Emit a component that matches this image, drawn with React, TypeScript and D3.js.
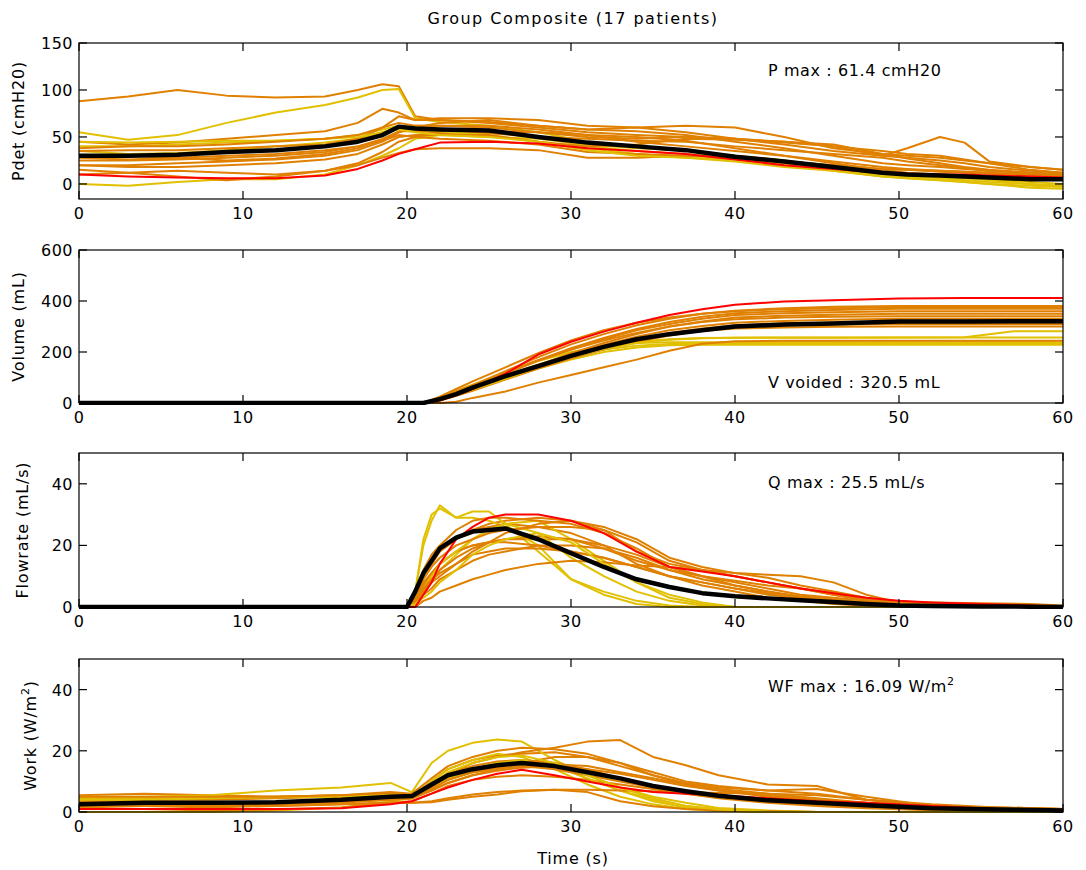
import React from 'react';
import * as d3 from 'd3';

const ORANGE = '#e08000';
const YELLOW = '#e0c000';
const RED = '#ff0000';

// colour of each of the 17 patients
const patientColor = [ORANGE, YELLOW, ORANGE, YELLOW, RED, ORANGE, YELLOW, ORANGE, ORANGE, YELLOW, ORANGE, ORANGE, ORANGE, ORANGE, ORANGE, YELLOW, ORANGE];

const xTicks = [0, 10, 20, 30, 40, 50, 60];

// ---- Pdet (cmH2O)
const pdetTime = [0, 3, 6, 9, 12, 15, 17, 18.5, 19.5, 20.5, 22, 25, 28, 31, 34, 37, 40, 43, 46, 49, 50.5, 52.5, 54, 55.5, 58, 60];
const pdetSeries = [
  [88, 93, 100, 94, 92, 93, 100, 106, 104, 72, 68, 66, 62, 58, 56, 52, 45, 38, 30, 22, 20, 18, 16, 14, 12, 10],
  [55, 47, 52, 65, 76, 84, 92, 100, 101, 70, 66, 62, 55, 45, 40, 36, 30, 25, 18, 12, 10, 8, 6, 5, 2, 0],
  [45, 42, 44, 48, 52, 56, 65, 80, 76, 68, 68, 65, 60, 55, 52, 50, 48, 45, 40, 35, 32, 30, 26, 22, 15, 12],
  [0, -2, 2, 5, 5, 10, 20, 30, 38, 48, 52, 50, 48, 42, 38, 36, 30, 25, 18, 12, 10, 8, 6, 4, 0, -3],
  [10, 8, 7, 6, 6, 9, 16, 25, 32, 37, 44, 45, 43, 38, 35, 32, 26, 20, 16, 12, 11, 10, 10, 9, 8, 7],
  [20, 20, 22, 24, 26, 30, 36, 45, 55, 62, 62, 62, 58, 52, 45, 40, 35, 30, 22, 15, 12, 10, 9, 8, 6, 5],
  [40, 40, 42, 44, 46, 48, 52, 58, 62, 60, 58, 56, 50, 40, 35, 32, 28, 22, 16, 10, 8, 6, 4, 2, 0, -2],
  [25, 25, 26, 28, 30, 34, 40, 48, 56, 56, 55, 54, 50, 48, 46, 45, 40, 36, 32, 28, 24, 20, 17, 14, 12, 10],
  [15, 12, 8, 4, 8, 14, 22, 34, 45, 50, 54, 56, 55, 52, 50, 46, 38, 30, 24, 18, 16, 14, 13, 12, 10, 8],
  [35, 32, 33, 36, 40, 44, 48, 55, 60, 58, 56, 52, 45, 38, 32, 28, 24, 18, 14, 8, 6, 4, 2, 0, -4, -5],
  [30, 30, 28, 25, 27, 32, 38, 47, 55, 60, 65, 68, 62, 58, 60, 55, 48, 42, 35, 30, 28, 25, 22, 18, 14, 12],
  [10, 12, 14, 12, 10, 14, 20, 28, 33, 37, 38, 38, 36, 28, 28, 30, 28, 24, 20, 16, 15, 13, 12, 11, 9, 8],
  [35, 36, 36, 38, 40, 42, 48, 60, 72, 68, 70, 70, 68, 62, 60, 62, 60, 50, 38, 32, 30, 28, 25, 22, 18, 15],
  [20, 18, 18, 20, 22, 26, 32, 42, 50, 52, 52, 52, 45, 40, 42, 48, 47, 45, 42, 32, 27, 22, 18, 15, 12, 10],
  [28, 26, 28, 30, 32, 36, 40, 46, 52, 50, 48, 46, 42, 34, 32, 30, 28, 24, 20, 16, 15, 14, 13, 12, 10, 8],
  [45, 44, 45, 46, 46, 48, 50, 55, 58, 55, 52, 50, 45, 36, 30, 28, 26, 20, 14, 8, 6, 4, 2, 0, -2, -3],
  [38, 40, 40, 42, 45, 48, 52, 60, 65, 62, 62, 60, 55, 50, 48, 50, 48, 44, 40, 30, 38, 50, 44, 24, 18, 15],
];
const pdetMean = [30, 30, 31, 34, 36, 40, 45, 52, 61, 59, 58, 57, 50, 44, 40, 36, 29, 24, 18, 12, 10, 9, 8, 7, 5, 5];

// ---- Volume (mL)
const volTime = [0, 20, 21, 22, 23, 24, 26, 28, 30, 32, 34, 36, 38, 40, 43, 46, 50, 54, 57, 60];
const volSeries = [
  [0, 0, 0, 20, 45, 70, 125, 180, 230, 270, 305, 330, 350, 362, 372, 377, 380, 380, 380, 380],
  [0, 0, 0, 22, 48, 72, 120, 165, 200, 222, 235, 238, 238, 238, 238, 238, 238, 238, 238, 238],
  [0, 0, 0, 12, 32, 55, 100, 148, 195, 235, 270, 300, 320, 335, 342, 346, 350, 350, 350, 350],
  [0, 0, 0, 15, 35, 55, 95, 135, 170, 200, 218, 226, 228, 228, 228, 228, 228, 228, 228, 228],
  [0, 0, 0, 10, 30, 55, 115, 190, 240, 280, 315, 345, 368, 385, 398, 403, 410, 412, 412, 412],
  [0, 0, 0, 20, 45, 70, 120, 168, 210, 245, 275, 300, 318, 328, 335, 338, 340, 340, 340, 340],
  [0, 0, 0, 18, 40, 62, 105, 150, 190, 220, 240, 250, 255, 256, 256, 256, 257, 258, 281, 281],
  [0, 0, 0, 12, 30, 52, 98, 142, 182, 218, 250, 275, 292, 305, 312, 316, 320, 320, 320, 320],
  [0, 0, 0, 15, 38, 60, 105, 148, 188, 220, 248, 268, 282, 292, 296, 299, 300, 300, 300, 300],
  [0, 0, 0, 20, 42, 65, 108, 150, 185, 210, 225, 231, 232, 232, 232, 232, 232, 232, 232, 232],
  [0, 0, 0, 15, 40, 65, 115, 165, 210, 250, 285, 310, 330, 345, 352, 356, 360, 360, 360, 360],
  [0, 0, 0, 0, 5, 20, 45, 80, 110, 140, 170, 205, 232, 242, 244, 244, 244, 244, 244, 244],
  [0, 0, 0, 18, 42, 68, 118, 168, 215, 255, 290, 318, 338, 352, 360, 365, 370, 370, 370, 370],
  [0, 0, 0, 15, 38, 60, 105, 150, 190, 228, 260, 285, 302, 315, 322, 326, 330, 330, 330, 330],
  [0, 0, 0, 10, 28, 48, 92, 135, 175, 210, 240, 265, 285, 298, 304, 308, 310, 310, 310, 310],
  [0, 0, 0, 12, 32, 52, 95, 140, 180, 212, 235, 248, 254, 256, 257, 257, 257, 257, 257, 257],
  [0, 0, 0, 25, 55, 85, 140, 195, 245, 285, 315, 335, 350, 360, 368, 372, 375, 375, 375, 375],
];
const volMean = [0, 0, 0, 15, 35, 60, 105, 145, 185, 220, 250, 270, 285, 300, 308, 312, 320, 320, 321, 321];

// ---- Flowrate (mL/s)
const flowTime = [0, 20, 20.5, 21, 21.5, 22, 23, 24, 25, 26, 28, 30, 32, 34, 36, 38, 40, 42, 44, 46, 48, 50, 52, 55, 58, 60];
const flowSeries = [
  [0, 0, 3, 10, 14, 18, 22, 25, 27, 28, 29, 28, 25, 18, 14, 12, 10, 8, 6, 4.5, 2, 1, 0.5, 0, 0, 0],
  [0, 0, 5, 22, 30, 32, 29, 31, 31, 27, 18, 9, 5, 2, 0.5, 0, 0, 0, 0, 0, 0, 0, 0, 0, 0, 0],
  [0, 0, 2, 8, 11, 14, 18, 20, 21, 22, 22, 22, 20, 17, 13, 10, 8, 6, 4, 3, 2, 1, 0.5, 0, 0, 0],
  [0, 0, 5, 20, 28, 33, 29, 29, 28, 26, 20, 9, 4, 1, 0, 0, 0, 0, 0, 0, 0, 0, 0, 0, 0, 0],
  [0, 0, 0, 4, 8, 14, 22, 26, 29, 30, 30, 28, 24, 18, 13, 11.5, 10, 8, 6, 4.5, 3, 2, 1.5, 1, 0.5, 0],
  [0, 0, 3, 10, 14, 18, 22, 25, 26, 27, 26, 24, 20, 14, 10, 7, 5, 3, 2, 1, 0.5, 0, 0, 0, 0, 0],
  [0, 0, 1, 5, 8, 12, 17, 22, 25, 27, 28, 22, 15, 8, 3, 1, 0, 0, 0, 0, 0, 0, 0, 0, 0, 0],
  [0, 0, 2, 6, 9, 12, 16, 19, 21, 22, 23, 22, 19, 15, 12, 9, 7, 5, 3.5, 2.5, 1.5, 1, 0.5, 0, 0, 0],
  [0, 0, 2, 7, 11, 14, 18, 20, 21, 21, 20, 18, 16, 13, 10, 8, 6, 4, 3, 2, 1, 0.5, 0, 0, 0, 0],
  [0, 0, 2, 6, 10, 14, 18, 22, 25, 27, 24, 16, 10, 5, 2, 0.5, 0, 0, 0, 0, 0, 0, 0, 0, 0, 0],
  [0, 0, 1, 5, 8, 10, 14, 18, 21, 24, 27, 28, 26, 22, 16, 13, 11, 9.5, 7, 5, 3, 1.5, 1, 0.5, 0, 0],
  [0, 0, 0, 2, 3, 5, 7, 9, 10.5, 12, 14, 15, 14.5, 13.5, 13, 12, 10, 8, 6, 4, 2.5, 1.8, 1.5, 1.2, 1, 0.5],
  [0, 0, 3, 9, 13, 16, 20, 22, 24, 25, 26, 26, 25, 21, 15, 12, 11, 10.5, 10, 8, 4, 1.5, 1, 0.5, 0, 0],
  [0, 0, 1, 4, 6, 9, 12, 15, 17, 18, 20, 20, 19, 16, 12, 10, 8.5, 7, 6, 4, 2, 1, 0.5, 0, 0, 0],
  [0, 0, 2, 6, 9, 11, 14, 17, 18, 19, 19, 18, 16, 13, 10, 8, 6, 4.5, 3, 2, 1, 0.5, 0, 0, 0, 0],
  [0, 0, 1, 3, 5, 8, 12, 17, 20, 22, 24, 21, 14, 8, 4, 1.5, 0, 0, 0, 0, 0, 0, 0, 0, 0, 0],
  [0, 0, 4, 12, 17, 20, 25, 28, 29, 29, 28, 27, 24, 19, 13, 10, 7, 5, 3, 2, 1, 0.5, 0, 0, 0, 0],
];
const flowMean = [0, 0, 5, 11, 15, 19, 22.5, 24.5, 25, 25.5, 22, 17.5, 13, 9, 6.5, 4.5, 3.5, 2.8, 2.2, 1.6, 1, 0.5, 0.3, 0.2, 0.1, 0];

// ---- Work (W/m2)
const workTime = [0, 4, 8, 12, 16, 19, 20.3, 21.5, 22.5, 24, 25.5, 27, 29, 31, 33, 35, 37, 39, 42, 45, 48, 52, 56, 60];
const workSeries = [
  [5.5, 6, 5.5, 5, 5.5, 6, 5, 10, 14, 17, 18.5, 19, 19.5, 18, 15, 12, 9, 7, 5, 3.5, 2.5, 1.5, 1, 1],
  [5, 5, 5.5, 7, 8, 9.5, 6.5, 16, 20, 22.6, 23.7, 23, 17, 12, 8, 5, 3, 1.3, 0.5, 0, 0, 0, 0, 0],
  [4, 4, 4, 4.5, 5, 6, 5.5, 9, 11, 13, 14, 15, 15.5, 15, 13, 11, 9, 7.5, 6, 4.5, 3, 1.5, 1, 0.8],
  [0, 0, 0, 0.5, 1.5, 3.5, 4.5, 10, 14, 17, 19, 18, 14, 9, 5, 2.5, 1, 0.3, 0, 0, 0, 0, 0, 0],
  [1, 1, 1, 1, 1.2, 2.5, 3.5, 6, 8, 10.5, 12.5, 13.8, 12, 10, 8, 6.5, 6, 5.5, 4.5, 3.5, 3, 2, 1, 0.5],
  [3, 3, 3, 3, 3.5, 4.5, 5, 9, 12.5, 15, 16.5, 17, 16, 14, 11, 8, 6, 4.5, 3, 2, 1.2, 0.6, 0.3, 0.2],
  [4.5, 4.5, 4.5, 4.8, 5, 5.5, 5, 8, 11, 14, 16, 17, 15, 11, 7, 4, 2, 1, 0.3, 0, 0, 0, 0, 0],
  [2, 2.5, 3, 3, 3.5, 4.5, 4.5, 7, 9.5, 12, 13.5, 14.5, 15, 14, 12.5, 10.5, 8.5, 7, 5.5, 4, 3, 2, 1.5, 1],
  [1.5, 1, 0.5, 0.8, 1.5, 3, 3.5, 6, 8.5, 10.5, 11.5, 12, 11.5, 10.5, 9, 7.5, 6, 5, 3.5, 2.5, 1.5, 0.8, 0.5, 0.3],
  [3, 3, 3, 3.2, 3.5, 4.5, 4.5, 8, 10.5, 13, 15, 16.5, 15, 11, 7, 3.5, 1.5, 0.5, 0, 0, 0, 0, 0, 0],
  [3.5, 3, 2.5, 2.5, 3, 4, 4.5, 7, 9.5, 12, 14, 16, 18, 18, 16, 13, 10, 8.5, 7, 6, 4, 2, 1.2, 1],
  [1, 1, 1.5, 2, 2.5, 3, 3, 3.2, 4, 5, 5.7, 6.8, 7.3, 7.3, 7, 6.8, 6.5, 6.2, 6, 5.5, 4, 2, 1.2, 0.8],
  [4, 4, 4.5, 5, 5.5, 6, 5.5, 8, 12, 16, 18, 19.5, 21, 23, 23.5, 18, 15.3, 12, 9, 8.5, 4, 2.5, 1.5, 1],
  [2, 2, 2, 2, 2.5, 3, 3, 3.5, 4.5, 5.7, 6.5, 7, 7.3, 6.5, 3.5, 1.9, 1, 0.5, 0.3, 0, 0, 0, 0, 0],
  [2.5, 2.5, 2.5, 3, 3.5, 4, 4.5, 7.5, 10.5, 13, 14.5, 15, 14, 12, 10, 8, 6.5, 5.5, 4, 3, 2, 1.2, 0.8, 0.5],
  [4, 4, 4.5, 5, 5, 5.5, 5, 9, 13, 16, 18, 18.5, 16, 12, 8, 4.5, 2, 0.8, 0.2, 0, 0, 0, 0, 0],
  [5, 5, 5, 5, 5.5, 6.5, 6, 11, 15, 18, 20, 21, 20.5, 19, 16, 12, 9.5, 8, 7, 7.5, 5, 2, 1.5, 1],
];
const workMean = [2.5, 3, 3, 3.2, 4, 5, 5.2, 9, 12, 14, 15.3, 16, 15, 13, 11, 8.5, 6.8, 5.3, 3.8, 3, 2.2, 1.2, 0.8, 0.5];

const FONT = '"DejaVu Sans", sans-serif';
const LEFT = 79;
const RIGHT = 1063;
const TICK = 8;

const x = d3.scaleLinear().domain([0, 60]).range([LEFT, RIGHT]);

type PanelProps = {
  id: string;
  top: number;
  bottom: number;
  yDomain: [number, number];
  yTicks: number[];
  times: number[];
  series: number[][];
  mean: number[];
  label: React.ReactNode;
  labelX: number;
  note: React.ReactNode;
  noteY: number;
};

function Panel(p: PanelProps) {
  const y = d3.scaleLinear().domain(p.yDomain).range([p.bottom, p.top]);
  const line = d3.line<number>().x((_, i) => x(p.times[i])).y((d) => y(d));
  // red patient drawn last so it sits over the others
  const order = d3.range(p.series.length).sort((a, b) => (patientColor[a] === RED ? 1 : 0) - (patientColor[b] === RED ? 1 : 0));
  const midY = (p.top + p.bottom) / 2;
  return (
    <g>
      <clipPath id={p.id}>
        <rect x={LEFT} y={p.top} width={RIGHT - LEFT} height={p.bottom - p.top + 2} />
      </clipPath>
      <g clipPath={`url(#${p.id})`}>
        {order.map((k) => (
          <path key={k} d={line(p.series[k]) || ''} fill="none" stroke={patientColor[k]} strokeWidth={2} strokeLinejoin="round" />
        ))}
        <path d={line(p.mean) || ''} fill="none" stroke="#000" strokeWidth={4.5} strokeLinejoin="round" />
      </g>
      <rect x={LEFT} y={p.top} width={RIGHT - LEFT} height={p.bottom - p.top} fill="none" stroke="#000" strokeWidth={1.2} />
      {xTicks.map((t) => (
        <g key={t}>
          <line x1={x(t)} x2={x(t)} y1={p.bottom} y2={p.bottom - TICK} stroke="#000" strokeWidth={1.2} />
          <line x1={x(t)} x2={x(t)} y1={p.top} y2={p.top + TICK} stroke="#000" strokeWidth={1.2} />
          <text x={x(t)} y={p.bottom + 20} textAnchor="middle" fontSize={16} letterSpacing={0.5}>{t}</text>
        </g>
      ))}
      {p.yTicks.map((t) => (
        <g key={t}>
          <line x1={LEFT} x2={LEFT + TICK} y1={y(t)} y2={y(t)} stroke="#000" strokeWidth={1.2} />
          <line x1={RIGHT} x2={RIGHT - TICK} y1={y(t)} y2={y(t)} stroke="#000" strokeWidth={1.2} />
          <text x={LEFT - 6} y={y(t) + 6} textAnchor="end" fontSize={16} letterSpacing={0.5}>{t}</text>
        </g>
      ))}
      <text transform={`translate(${p.labelX},${midY}) rotate(-90)`} textAnchor="middle" fontSize={16} letterSpacing={0.8}>
        {p.label}
      </text>
      <text x={768} y={p.noteY} fontSize={16} letterSpacing={0.6}>{p.note}</text>
    </g>
  );
}

export default function App() {
  return (
    <svg width={1086} height={870} style={{ position: 'absolute', left: 0, top: 0, background: '#fff' }} fontFamily={FONT} fill="#000">
      <rect width={1086} height={870} fill="#fff" />
      <text x={573} y={24} textAnchor="middle" fontSize={16} letterSpacing={1.5}>Group Composite (17 patients)</text>
      <Panel id="c1" top={43} bottom={199} yDomain={[-16, 150]} yTicks={[0, 50, 100, 150]} times={pdetTime} series={pdetSeries} mean={pdetMean}
        label="Pdet (cmH20)" labelX={24} note="P max : 61.4 cmH20" noteY={76} />
      <Panel id="c2" top={250} bottom={403} yDomain={[0, 600]} yTicks={[0, 200, 400, 600]} times={volTime} series={volSeries} mean={volMean}
        label="Volume (mL)" labelX={24} note="V voided : 320.5 mL" noteY={388} />
      <Panel id="c3" top={453} bottom={607} yDomain={[0, 50]} yTicks={[0, 20, 40]} times={flowTime} series={flowSeries} mean={flowMean}
        label="Flowrate (mL/s)" labelX={28} note="Q max : 25.5 mL/s" noteY={488} />
      <Panel id="c4" top={659} bottom={812} yDomain={[0, 50]} yTicks={[0, 20, 40]} times={workTime} series={workSeries} mean={workMean}
        label={<>Work (W/m<tspan dy={-7} fontSize={11}>2</tspan><tspan dy={7}>)</tspan></>} labelX={36}
        note={<>WF max : 16.09 W/m<tspan dy={-7} fontSize={11}>2</tspan></>} noteY={692} />
      <text x={573} y={864} textAnchor="middle" fontSize={16} letterSpacing={0.8}>Time (s)</text>
    </svg>
  );
}
